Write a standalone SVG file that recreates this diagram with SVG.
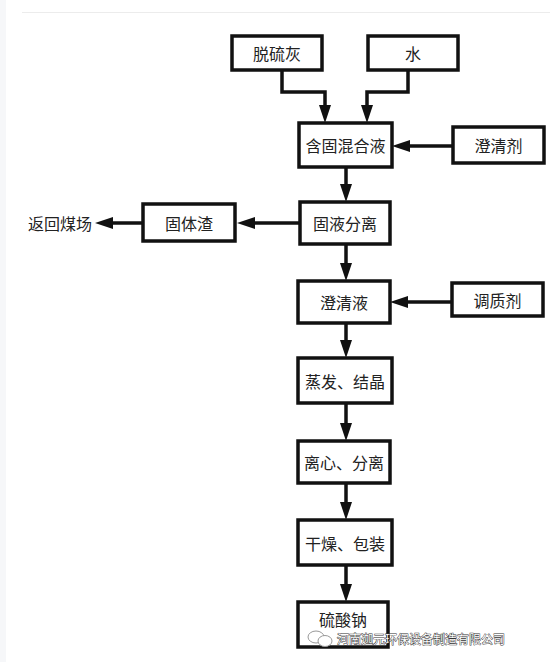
<svg xmlns="http://www.w3.org/2000/svg" width="554" height="662" viewBox="0 0 554 662">
<style>
.box{fill:#fff;stroke:#111;stroke-width:3.5}
.t{font-family:"Noto Sans CJK SC","Noto Sans",sans-serif;font-size:16px;fill:#222;text-anchor:middle;dominant-baseline:central}
.c{fill:none;stroke:#111;stroke-width:3.5}
.wm{font-family:"Noto Sans CJK SC",sans-serif;font-size:12px;fill:#fff;stroke:#333;stroke-width:0.9;paint-order:stroke}
</style>
<defs>
<marker id="ah" markerUnits="userSpaceOnUse" viewBox="0 0 18 12" refX="8" refY="6" markerWidth="18" markerHeight="12" orient="auto">
<path d="M0,0 L18,6 L0,12 z" fill="#111"/>
</marker>
</defs>
<rect x="0" y="0" width="554" height="662" fill="#fff"/>
<rect x="0" y="0" width="6" height="662" fill="#f6f7f9"/>
<line x1="22" y1="12.5" x2="550" y2="12.5" stroke="#ececec" stroke-width="1"/>
<g id="connectors">
<path class="c" d="M282,70 V92 H325 V113" marker-end="url(#ah)"/>
<path class="c" d="M408,70 V92 H367 V113" marker-end="url(#ah)"/>
<path class="c" d="M453,146 H402" marker-end="url(#ah)"/>
<path class="c" d="M346,167 V192" marker-end="url(#ah)"/>
<path class="c" d="M300,223 H247" marker-end="url(#ah)"/>
<path class="c" d="M143,223 H105" marker-end="url(#ah)"/>
<path class="c" d="M346,244 V271" marker-end="url(#ah)"/>
<path class="c" d="M452,302 H400" marker-end="url(#ah)"/>
<path class="c" d="M346,323 V348" marker-end="url(#ah)"/>
<path class="c" d="M346,403 V431" marker-end="url(#ah)"/>
<path class="c" d="M346,483 V510" marker-end="url(#ah)"/>
<path class="c" d="M346,565 V592" marker-end="url(#ah)"/>
</g>
<g id="n1"><rect class="box" x="232" y="36" width="90" height="34"/><text class="t" x="277" y="53">脱硫灰</text></g>
<g id="n2"><rect class="box" x="368" y="36" width="90" height="34"/><text class="t" x="413" y="53">水</text></g>
<g id="n3"><rect class="box" x="299" y="123" width="93" height="44"/><text class="t" x="345.5" y="145">含固混合液</text></g>
<g id="n4"><rect class="box" x="453" y="127" width="91" height="36"/><text class="t" x="498.5" y="145">澄清剂</text></g>
<g id="n5"><rect class="box" x="300" y="202" width="90" height="42"/><text class="t" x="345" y="223">固液分离</text></g>
<g id="n6"><rect class="box" x="143" y="204" width="92" height="37"/><text class="t" x="189" y="222.5">固体渣</text></g>
<g id="n7"><text class="t" x="60" y="223">返回煤场</text></g>
<g id="n8"><rect class="box" x="298" y="281" width="92" height="42"/><text class="t" x="344" y="302">澄清液</text></g>
<g id="n9"><rect class="box" x="452" y="283" width="91" height="33"/><text class="t" x="497.5" y="299.5">调质剂</text></g>
<g id="n10"><rect class="box" x="298" y="358" width="94" height="45"/><text class="t" x="345" y="381">蒸发、结晶</text></g>
<g id="n11"><rect class="box" x="298" y="441" width="92" height="42"/><text class="t" x="344" y="462">离心、分离</text></g>
<g id="n12"><rect class="box" x="298" y="520" width="94" height="45"/><text class="t" x="345" y="543">干燥、包装</text></g>
<g id="n13"><rect class="box" x="298" y="602" width="90" height="45"/><text class="t" x="343" y="619">硫酸钠</text></g>
<g id="watermark">
<ellipse cx="316" cy="637" rx="8" ry="6" fill="#fff" stroke="#999" stroke-width="1"/>
<ellipse cx="325" cy="641" rx="7" ry="5.5" fill="#fff" stroke="#999" stroke-width="1"/>
<text class="wm" x="337" y="644">河南迦元环保设备制造有限公司</text>
</g>
</svg>
